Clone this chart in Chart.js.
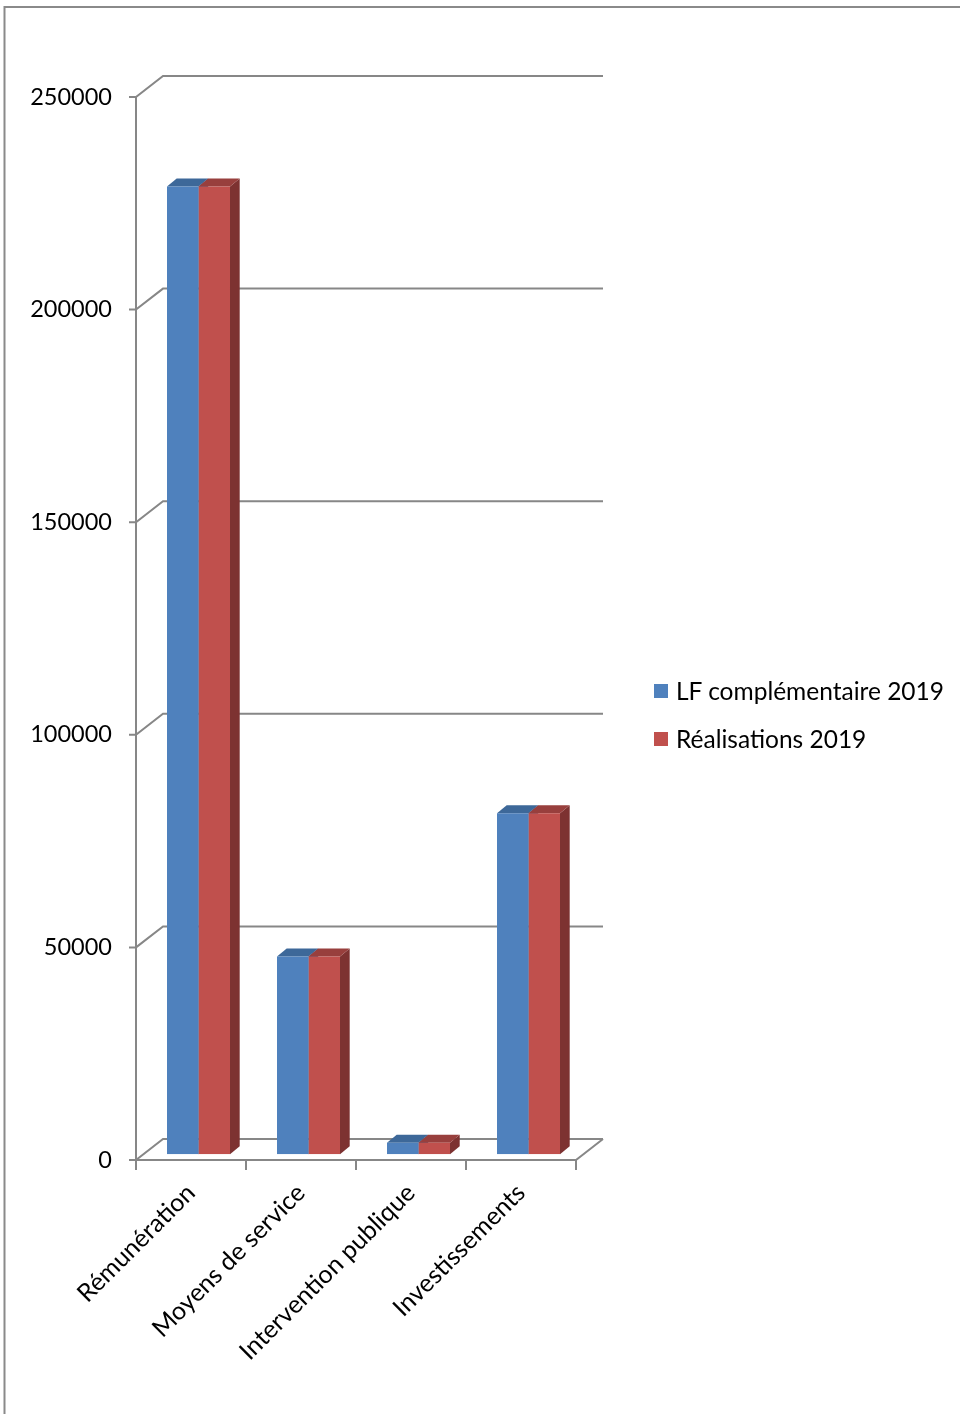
<!DOCTYPE html>
<html>
<head>
<meta charset="utf-8">
<script src="https://cdn.jsdelivr.net/npm/chart.js@4/dist/chart.umd.min.js"></script>
<style>
  html, body { margin: 0; padding: 0; background: #fff; overflow: hidden; }
  #wrap { position: relative; width: 960px; height: 1414px; }
  #legend { position: absolute; left: 654px; top: 674px; font-family: Lato, 'Open Sans', sans-serif; font-size: 24.5px; color: #000; }
  #legend .item { position: relative; height: 48px; line-height: 34px; white-space: nowrap; padding-left: 22px; }
  #legend .box { position: absolute; left: 0; top: 10px; width: 14px; height: 14px; }
</style>
</head>
<body>
<div id="wrap"><canvas id="c" width="960" height="1414"></canvas><div id="legend"></div></div>
<script>
// ---- data ----
const categories = ["Rémunération", "Moyens de service", "Intervention publique", "Investissements"];
const seriesNames = ["LF complémentaire 2019", "Réalisations 2019"];
const lfComplementaire = [227600, 46500, 2700, 80200];
const realisations = [227600, 46500, 2700, 80200];
const yTicks = [0, 50000, 100000, 150000, 200000, 250000];

// ---- style ----
const FONT = "Lato, 'Open Sans', sans-serif";
const frontColors = ["#4F81BD", "#C0504D"];
const topColors = ["#3D6899", "#983F3D"];
const sideColors = ["#375D8A", "#7D3231"];
const GRID = "#878787";
const WALL_DX = 27, WALL_DY = -21;     // depth of floor / side wall
const BAR_OFF_X = 7.5, BAR_OFF_Y = -5.7; // bar front plane inside depth
const BAR_DX = 9.7, BAR_DY = -8;       // bar depth

const threeD = {
  id: 'threeD',
  beforeDraw(chart) {
    const ctx = chart.ctx;
    ctx.save();
    ctx.strokeStyle = "#8A8A8A";
    ctx.lineWidth = 2;
    ctx.beginPath();
    ctx.moveTo(4.5, 1414);
    ctx.lineTo(4.5, 7);
    ctx.lineTo(960, 7);
    ctx.stroke();
    ctx.restore();
  },
  beforeDatasetsDraw(chart) {
    const ctx = chart.ctx;
    const a = chart.chartArea;
    const ys = chart.scales.y;
    ctx.save();
    ctx.strokeStyle = GRID;
    ctx.lineWidth = 2;
    ctx.lineCap = 'butt';
    yTicks.forEach(v => {
      const y = ys.getPixelForValue(v);
      ctx.beginPath();
      ctx.moveTo(a.left - 7, y);
      ctx.lineTo(a.left, y);
      ctx.lineTo(a.left + WALL_DX, y + WALL_DY);
      ctx.lineTo(a.right + WALL_DX, y + WALL_DY);
      ctx.stroke();
    });
    const y0 = ys.getPixelForValue(0);
    ctx.beginPath();
    ctx.moveTo(a.left, ys.getPixelForValue(yTicks[yTicks.length - 1]));
    ctx.lineTo(a.left, y0);
    ctx.stroke();
    ctx.beginPath();
    ctx.moveTo(a.left, y0);
    ctx.lineTo(a.right, y0);
    ctx.lineTo(a.right + WALL_DX, y0 + WALL_DY);
    ctx.stroke();
    const n = categories.length;
    for (let i = 0; i <= n; i++) {
      const x = a.left + (a.right - a.left) * i / n;
      ctx.beginPath();
      ctx.moveTo(x, y0);
      ctx.lineTo(x, y0 + 10);
      ctx.stroke();
    }
    ctx.restore();

    chart.data.datasets.forEach((ds, di) => {
      const meta = chart.getDatasetMeta(di);
      meta.data.forEach(bar => {
        const p = bar.getProps(['x', 'y', 'base', 'width'], true);
        const l = p.x - p.width / 2 + BAR_OFF_X;
        const r = p.x + p.width / 2 + BAR_OFF_X;
        const t = p.y + BAR_OFF_Y;
        const b = p.base + BAR_OFF_Y;
        ctx.save();
        ctx.fillStyle = sideColors[di];
        ctx.beginPath();
        ctx.moveTo(r, t);
        ctx.lineTo(r + BAR_DX, t + BAR_DY);
        ctx.lineTo(r + BAR_DX, b + BAR_DY);
        ctx.lineTo(r, b);
        ctx.closePath();
        ctx.fill();
        ctx.fillStyle = topColors[di];
        ctx.beginPath();
        ctx.moveTo(l, t);
        ctx.lineTo(l + BAR_DX, t + BAR_DY);
        ctx.lineTo(r + BAR_DX, t + BAR_DY);
        ctx.lineTo(r, t);
        ctx.closePath();
        ctx.fill();
        ctx.restore();
      });
    });
    ctx.save();
    ctx.translate(BAR_OFF_X, BAR_OFF_Y);
  },
  afterDatasetsDraw(chart) {
    chart.ctx.restore();
  }
};

const chart = new Chart(document.getElementById('c'), {
  type: 'bar',
  data: {
    labels: categories,
    datasets: [
      { label: seriesNames[0], data: lfComplementaire, backgroundColor: frontColors[0], borderWidth: 0 },
      { label: seriesNames[1], data: realisations, backgroundColor: frontColors[1], borderWidth: 0 }
    ]
  },
  options: {
    responsive: false,
    animation: false,
    layout: { padding: { top: 97, right: 384, bottom: 0, left: 0 } },
    datasets: { bar: { categoryPercentage: 0.5727, barPercentage: 1 } },
    plugins: {
      tooltip: { enabled: false },
      legend: { display: false }
    },
    scales: {
      x: {
        grid: { display: false, drawTicks: false },
        border: { display: false },
        ticks: {
          autoSkip: false, maxRotation: 45, minRotation: 45,
          color: '#000', padding: 18,
          font: { family: FONT, size: 25 }
        },
        afterFit: s => { s.height = 254; }
      },
      y: {
        min: 0, max: 250000,
        grid: { display: false, drawTicks: false },
        border: { display: false },
        afterBuildTicks: s => { s.ticks = yTicks.map(v => ({ value: v })); },
        ticks: {
          color: '#000', padding: 24,
          font: { family: FONT, size: 23.5 },
          callback: v => String(v)
        },
        afterFit: s => { s.width = 136; }
      }
    }
  },
  plugins: [threeD]
});

// HTML legend built from the chart's datasets
const legendEl = document.getElementById('legend');
chart.data.datasets.forEach(ds => {
  const item = document.createElement('div');
  item.className = 'item';
  const box = document.createElement('span');
  box.className = 'box';
  box.style.background = ds.backgroundColor;
  item.appendChild(box);
  item.appendChild(document.createTextNode(ds.label));
  legendEl.appendChild(item);
});
</script>
</body>
</html>
